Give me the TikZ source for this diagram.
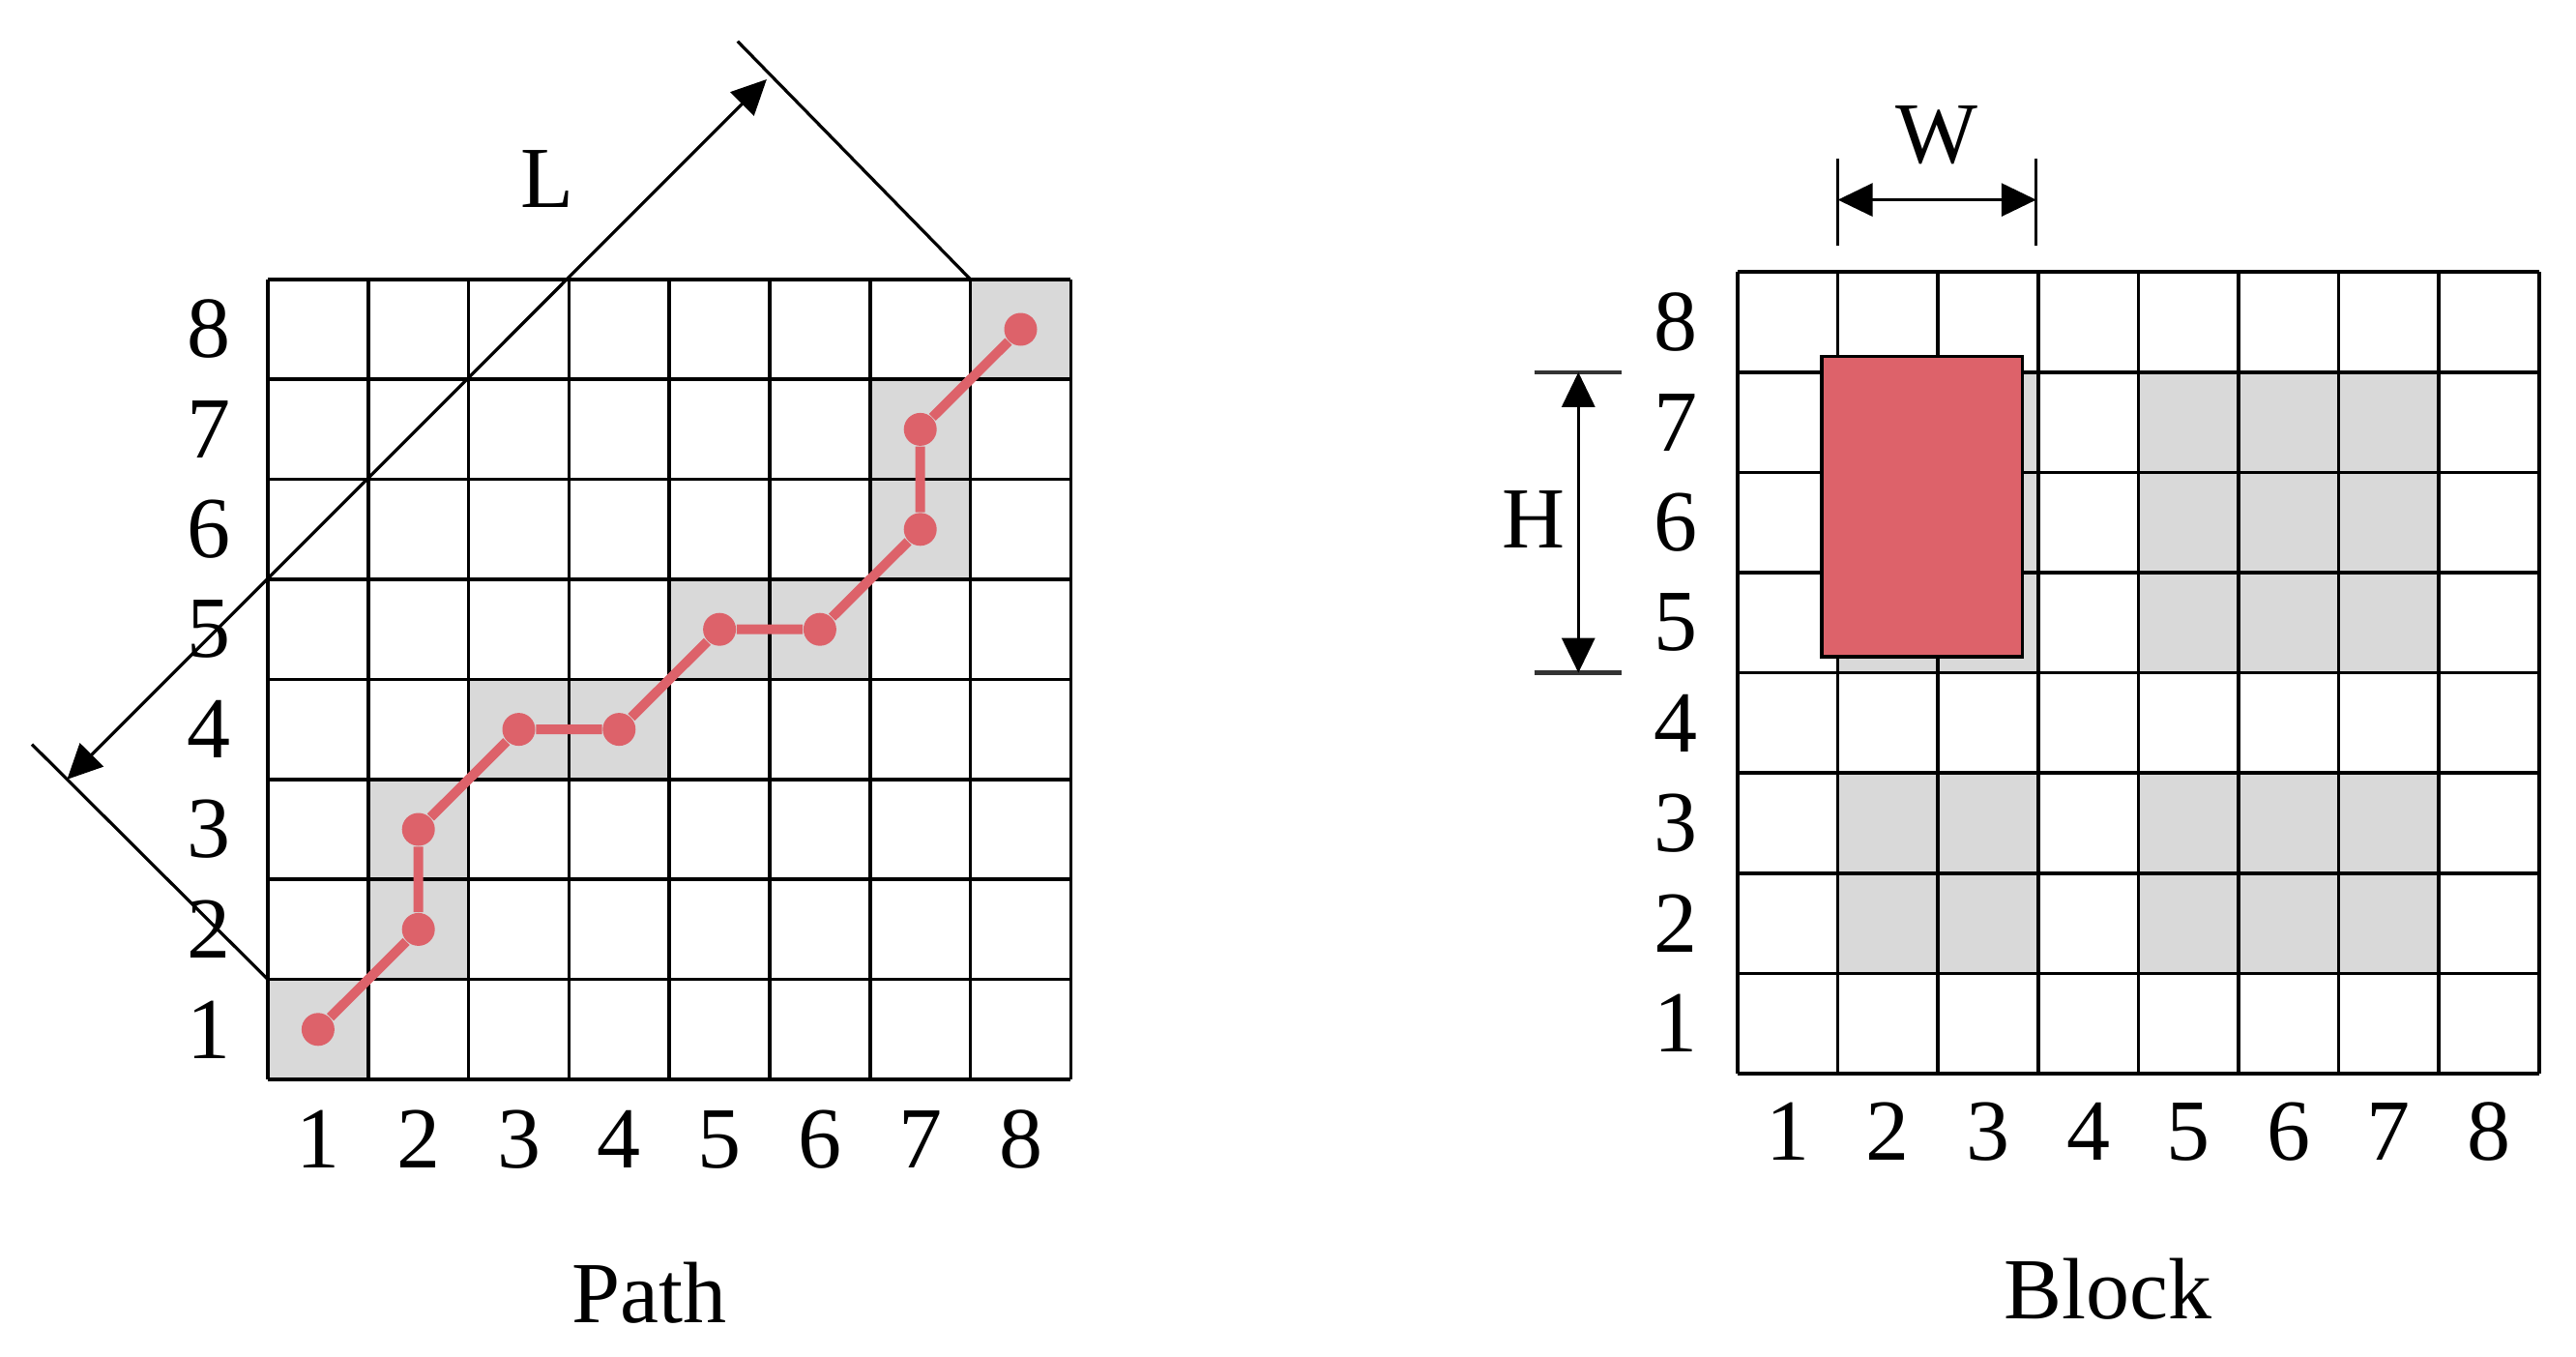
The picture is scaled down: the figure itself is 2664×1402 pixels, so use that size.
\documentclass[tikz,border=0pt]{standalone}
\usepackage{fontspec}
\setmainfont{Liberation Serif}
\usetikzlibrary{arrows.meta}
\definecolor{cellgray}{RGB}{217,217,217}
\definecolor{pathred}{RGB}{221,98,106}
\begin{document}
\begin{tikzpicture}[x=0.25pt,y=-0.25pt,
  gridline/.style={line width=0.9pt, black},
  lab/.style={font=\fontsize{22.5}{27}\selectfont, inner sep=0pt},
  dot/.style={circle, fill=pathred, minimum size=8.5pt, inner sep=0pt},
  redline/.style={pathred, line width=2.5pt},
  dimline/.style={line width=0.8pt, black},
  dimarrow/.style={line width=0.8pt, black, {Triangle[length=9pt,width=8.5pt]}-{Triangle[length=9pt,width=8.5pt]}},
]
\useasboundingbox (0,0) rectangle (2664,1402);

% ---------------- Left: Path ----------------
\begin{scope}[shift={(277,1116)}, x=25.95pt, y=25.85pt]
  \foreach \c/\r in {1/1,2/2,2/3,3/4,4/4,5/5,6/5,7/6,7/7,8/8}
    \fill[cellgray] (\c-1,\r-1) rectangle (\c,\r);
  \draw[gridline] (0,0) grid[step=1] (8,8);
  \foreach \i in {1,...,8} {
    \node[lab] (pr\i) at (-0.59,\i-0.5) {\i};
    \node[lab] (pc\i) at (\i-0.5,-0.6) {\i};
  }
  % red path
  \foreach \n/\c/\r in {1/1/1,2/2/2,3/2/3,4/3/4,5/4/4,6/5/5,7/6/5,8/7/6,9/7/7,10/8/8}
    \node[dot] (p\n) at (\c-0.5,\r-0.5) {};
  \draw[redline] (p1) -- (p2) -- (p3) -- (p4) -- (p5) -- (p6) -- (p7) -- (p8) -- (p9) -- (p10);
  % L dimension
  \coordinate (Lc1) at (0,1);
  \coordinate (Le1) at (-2.35,3.35);
  \coordinate (Lc2) at (7,8);
  \coordinate (Le2) at (4.68,10.38);
  \draw[dimline] (Lc1) -- (Le1);
  \draw[dimline] (Lc2) -- (Le2);
  \coordinate (La) at (-2,3);
  \coordinate (Lb) at (4.97,10);
  \draw[dimarrow] (La) -- (Lb);
  \node[lab] (Llab) at (2.78,9.0) {L};
  \node[lab] (pathlab) at (3.8,-2.13) {Path};
\end{scope}

% ---------------- Right: Block ----------------
\begin{scope}[shift={(1797,1110)}, x=25.9pt, y=25.9pt]
  \foreach \c in {2,3,5,6,7}
    \foreach \r in {2,3,5,6,7}
      \fill[cellgray] (\c-1,\r-1) rectangle (\c,\r);
  \draw[gridline] (0,0) grid[step=1] (8,8);
  \foreach \i in {1,...,8} {
    \node[lab] (br\i) at (-0.62,\i-0.5) {\i};
    \node[lab] (bc\i) at (\i-0.5,-0.58) {\i};
  }
  \fill[pathred, draw=black, line width=0.8pt] (0.84,4.16) rectangle (2.84,7.16);
  % W dimension
  \coordinate (Wa1) at (1,8.26);
  \coordinate (Wb1) at (1,9.13);
  \coordinate (Wa2) at (2.98,8.26);
  \coordinate (Wb2) at (2.98,9.13);
  \draw[dimline] (Wa1) -- (Wb1);
  \draw[dimline] (Wa2) -- (Wb2);
  \coordinate (Wl) at (1,8.72);
  \coordinate (Wr) at (2.98,8.72);
  \draw[dimarrow] (Wl) -- (Wr);
  \node[lab] (Wlab) at (1.99,9.37) {W};
  % H dimension
  \coordinate (Ha1) at (-2.03,7);
  \coordinate (Hb1) at (-1.16,7);
  \coordinate (Ha2) at (-2.03,4);
  \coordinate (Hb2) at (-1.16,4);
  \draw[line width=1.1pt, black!80] (Ha1) -- (Hb1);
  \draw[line width=1.1pt, black!80] (Ha2) -- (Hb2);
  \coordinate (Ht) at (-1.59,7);
  \coordinate (Hb) at (-1.59,4);
  \draw[dimarrow] (Ht) -- (Hb);
  \node[lab] (Hlab) at (-2.04,5.53) {H};
  \node[lab] (blocklab) at (3.7,-2.15) {Block};
\end{scope}
\end{tikzpicture}
\end{document}
